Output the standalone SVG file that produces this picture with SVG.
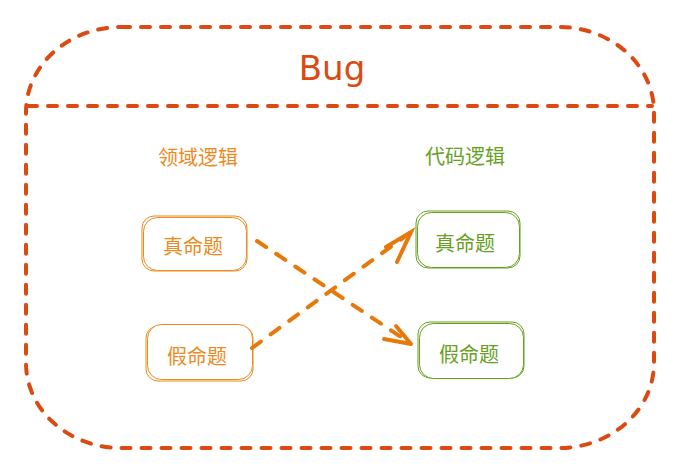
<svg xmlns="http://www.w3.org/2000/svg" width="679" height="476" viewBox="0 0 679 476">
<style>
.frame{fill:none;stroke:#db4a12;stroke-width:4;stroke-linecap:round;stroke-dasharray:9 11}
.box{fill:#fff;stroke-width:1}
.o{stroke:#ec8a1e}
.g{stroke:#66a01e}
.t{font-family:"Noto Sans CJK SC","Noto Sans",sans-serif;font-size:20px;text-anchor:middle;dominant-baseline:central}
.to{fill:#ec8a1e}
.tg{fill:#66a01e}
.arr{fill:none;stroke:#e8780a;stroke-width:4;stroke-linecap:round}
.dash{stroke-dasharray:11 12}
</style>
<rect width="679" height="476" fill="#fff"/>
<g id="container">
<rect class="frame" x="26" y="27" width="628" height="421" rx="95" ry="85"/>
<line class="frame" x1="28" y1="106" x2="652" y2="106"/>
<text x="332" y="68" font-family="'DejaVu Sans',sans-serif" font-size="34" fill="#db4a12" text-anchor="middle" dominant-baseline="central">Bug</text>
</g>
<g id="label-domain"><text class="t to" x="198" y="156">领域逻辑</text></g>
<g id="label-code"><text class="t tg" x="465" y="155">代码逻辑</text></g>
<g id="domain-true">
<rect class="box o" x="142" y="216" width="105" height="55" rx="12"/>
<rect class="box o" x="143.5" y="217.5" width="103" height="53" rx="14" fill="none"/>
<text class="t to" x="193" y="245">真命题</text>
</g>
<g id="domain-false">
<rect class="box o" x="146" y="326" width="107" height="55" rx="12"/>
<rect class="box o" x="147.5" y="324.5" width="105" height="55" rx="14" fill="none"/>
<text class="t to" x="197" y="355">假命题</text>
</g>
<g id="code-true">
<rect class="box g" x="416" y="211" width="104" height="57" rx="12"/>
<rect class="box g" x="417.5" y="212.5" width="102" height="55" rx="14" fill="none"/>
<text class="t tg" x="465" y="242">真命题</text>
</g>
<g id="code-false">
<rect class="box g" x="418" y="322" width="106" height="56" rx="12"/>
<rect class="box g" x="419.5" y="323.5" width="104" height="55" rx="14" fill="none"/>
<text class="t tg" x="469" y="353">假命题</text>
</g>
<g id="connectors">
<path class="arr dash" d="M257,241 L410,343"/>
<path class="arr" d="M396,326 L411,344 M384,339 L411,344"/>
<path class="arr dash" d="M252,348 L411,232"/>
<path class="arr" d="M386,247 L411,232 L397,262"/>
</g>
</svg>
